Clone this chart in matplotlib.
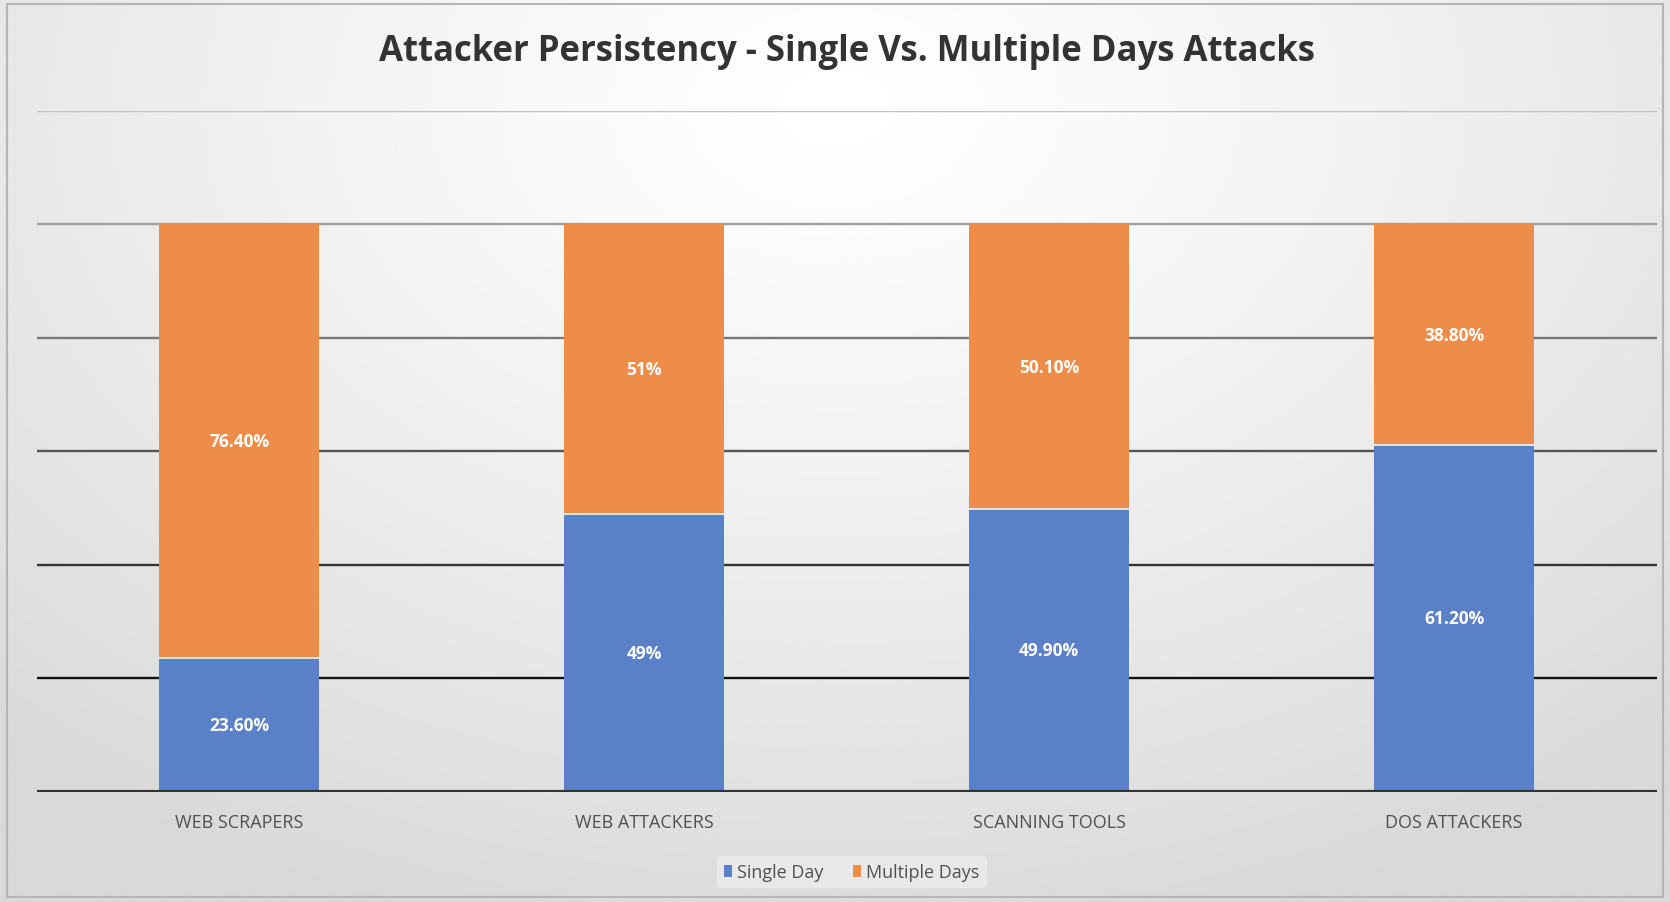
import numpy as np
import matplotlib
matplotlib.use("Agg")
import matplotlib.pyplot as plt
from matplotlib.patches import Patch, Rectangle

# chart data
categories = ["WEB SCRAPERS", "WEB ATTACKERS", "SCANNING TOOLS", "DOS ATTACKERS"]
single_day = [23.6, 49.0, 49.9, 61.2]
multiple_days = [76.4, 51.0, 50.1, 38.8]
single_labels = ["23.60%", "49%", "49.90%", "61.20%"]
multi_labels = ["76.40%", "51%", "50.10%", "38.80%"]
series_names = ["Single Day", "Multiple Days"]

BLUE = "#5a80c8"
ORANGE = "#ee8d4a"
FONT = ["Open Sans", "DejaVu Sans"]
plt.rcParams["font.family"] = FONT

fig = plt.figure(figsize=(16.7, 9.03), dpi=100)

# soft radial background like the office chart area
bg = fig.add_axes([0, 0, 1, 1], zorder=0)
yy, xx = np.mgrid[0:1:300j, 0:1:600j]
r = np.sqrt(((xx - 0.5) / 0.75) ** 2 + ((yy - 0.12) / 0.95) ** 2)
shade = 1.0 - 0.15 * np.clip(r, 0, 1) ** 1.2
bg.imshow(shade, cmap="gray", vmin=0, vmax=1, aspect="auto",
          extent=[0, 1, 1, 0], interpolation="bilinear")
bg.add_patch(Rectangle((0.004, 0.006), 0.992, 0.988, fill=False,
                       edgecolor="#b5b5b5", lw=1.5, transform=bg.transAxes))
bg.set_xlim(0, 1)
bg.set_ylim(1, 0)
bg.axis("off")

ax = fig.add_axes([0.022, 0.122, 0.970, 0.754], zorder=1)
ax.patch.set_alpha(0)

x = np.arange(len(categories))
width = 0.395

# gridlines fade from light at the top to dark at the bottom
grid_levels = [20, 40, 60, 80, 100, 120]
grid_colors = ["#111111", "#333333", "#555555", "#777777", "#a0a0a0", "#c2c2c2"]
for lvl, c in zip(grid_levels, grid_colors):
    ax.axhline(lvl, color=c, lw=1.7, zorder=1)
ax.axhline(0, color="#333333", lw=3, zorder=3)

ax.bar(x, single_day, width, color=BLUE, edgecolor="none", zorder=2)
ax.bar(x, multiple_days, width, bottom=single_day, color=ORANGE,
       edgecolor="none", zorder=2)
# thin light seam between the two segments
ax.hlines(single_day, x - width / 2, x + width / 2, color="#f4f4f4", lw=1.2, zorder=2.5)

for i in range(len(categories)):
    ax.text(x[i], single_day[i] / 2, single_labels[i], ha="center", va="center",
            color="white", fontsize=12.5, fontweight="bold", zorder=4)
    ax.text(x[i], single_day[i] + multiple_days[i] / 2, multi_labels[i],
            ha="center", va="center", color="white", fontsize=12.5,
            fontweight="bold", zorder=4)

ax.set_xlim(-0.5, 3.5)
ax.set_ylim(0, 120)
ax.set_xticks(x)
ax.set_xticklabels(categories, fontsize=13, color="#505050")
ax.tick_params(axis="x", length=0, pad=15)
ax.set_yticks([])
for s in ax.spines.values():
    s.set_visible(False)

fig.text(0.507, 0.942, "Attacker Persistency - Single Vs. Multiple Days Attacks",
         ha="center", va="center", fontsize=25, fontweight="bold", color="#333333")

handles = [Patch(facecolor=BLUE), Patch(facecolor=ORANGE)]
leg = fig.legend(handles, series_names, loc="center", bbox_to_anchor=(0.51, 0.033),
                 ncol=2, frameon=True, fontsize=13, handlelength=0.45,
                 handleheight=0.6, handletextpad=0.3, columnspacing=1.6,
                 labelcolor="#505050")
leg.get_frame().set_facecolor("#ececec")
leg.get_frame().set_edgecolor("none")
leg.get_frame().set_alpha(0.8)

fig.savefig("out.png", dpi=100)
